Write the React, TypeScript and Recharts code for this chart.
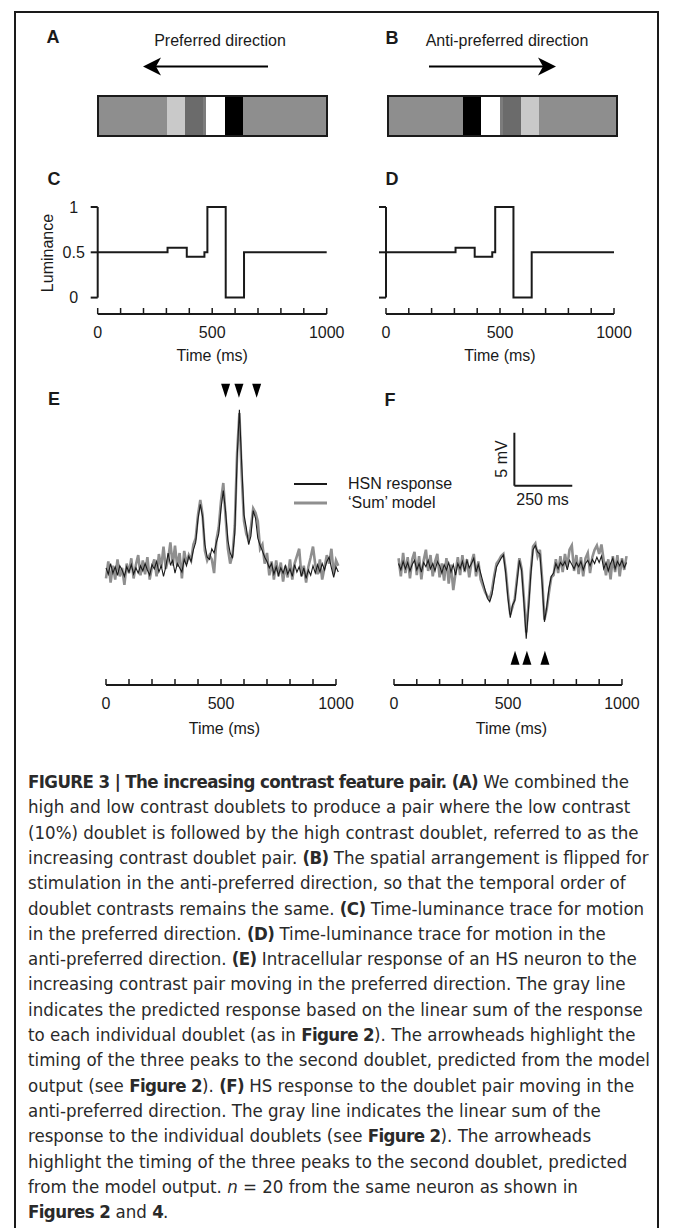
import React from "react";
import {
  BarChart,
  Bar,
  LineChart,
  Line,
  ComposedChart,
  Scatter,
  XAxis,
  YAxis,
  ReferenceLine,
  Legend,
} from "recharts";

// stimulus bars: stripe widths, left to right
const stripesA = [68, 18, 18, 3, 19, 18, 83];
const stripesB = [74, 18, 19, 3, 18, 18, 77];
const stripeColorsA = ["#8e8e8e", "#c9c9c9", "#6b6b6b", "#7c7c7c", "#ffffff", "#000000", "#8e8e8e"];
const stripeColorsB = ["#8e8e8e", "#000000", "#ffffff", "#7c7c7c", "#6b6b6b", "#c9c9c9", "#8e8e8e"];

// luminance step trace (ms, luminance)
const lumTimes = [0, 305, 389, 466, 479, 559, 639, 1000];
const lumValues = [0.5, 0.55, 0.45, 0.5, 1, 0, 0.5, 0.5];
const lumTicks = [0, 0.5, 1];

const timeTicks = [0, 100, 200, 300, 400, 500, 600, 700, 800, 900, 1000];
const timeLabels = [0, 500, 1000];

// E: preferred direction, mV above rest, one sample every 10 ms from 0 ms
const eHsn = [
  0.2, -0.4, 0.6, -0.3, 0.3, -0.5, 0.4, 0.0, -0.6, 0.3,
  -0.2, 0.5, -0.4, 0.2, -0.3, 0.4, -0.1, 0.6, 0.0, -0.5,
  0.5, 0.1, 0.8, -0.2, 0.4, -0.6, 0.3, 1.6, 0.5, 0.9,
  -0.3, 0.6, 0.2, -0.2, 1.0, 0.4, 1.3, 0.8, 1.9, 2.6,
  4.8, 6.2, 5.0, 2.4, 1.2, 1.0, 2.0, 1.6, 2.6, 3.4,
  5.8, 7.5, 5.5, 2.8, 1.6, 1.1, 3.5, 10.5, 15.1, 10.0,
  5.2, 4.0, 2.4, 3.2, 5.6, 4.9, 3.0, 2.3, 1.8, 1.2,
  0.8, 0.2, 0.6, -0.4, 0.3, -0.5, 0.2, -0.3, 0.4, -0.4,
  0.1, -0.6, 0.5, -0.2, 0.3, -0.6, 0.2, -0.8, 0.0, -0.5,
  0.4, -0.3, 0.5, -0.2, 0.6, 0.0, 0.8, 1.2, 0.2, -0.7,
  0.3, -0.2,
];
const eSum = [
  -0.8, 0.8, -1.2, 0.4, -0.9, 1.0, -0.6, 0.2, -1.4, 0.6,
  -0.3, 1.1, -0.8, 0.5, 1.4, -0.5, 0.9, -0.4, 1.2, -0.9,
  0.3, 1.0, -0.6, 1.5, 0.2, 2.2, 0.1, 1.0, 2.6, 0.4,
  2.3, 0.3, 1.6, -0.8, 1.8, 0.6, 1.4, 0.9, 2.4, 3.0,
  5.2, 6.6, 5.2, 1.8, 0.9, 1.4, 1.0, -0.3, 2.8, 4.0,
  6.5, 8.2, 5.0, 2.0, 0.6, 1.4, 4.2, 11.0, 14.8, 9.0,
  4.6, 3.4, 2.8, 4.0, 5.8, 5.4, 4.6, 2.0, 2.4, 0.6,
  1.6, -0.5, 0.8, -0.9, 0.9, -0.6, 0.7, -1.1, 0.4, -0.7,
  1.0, -0.9, 0.6, 1.3, 2.0, -0.6, 0.4, -1.2, 0.3, 1.2,
  2.2, 0.5, -0.4, 1.0, -0.9, 0.2, 1.4, 0.6, 2.0, -0.4,
  0.9, 0.4,
];
const eArrowTimes = [520, 578, 655];

// F: anti-preferred direction, one sample every 10 ms from 20 ms
const fHsn = [
  0.3, -0.3, 0.5, -0.2, 0.4, -0.4, 0.2, 0.6, -0.3, 0.3,
  -0.5, 0.4, 0.0, 0.6, -0.2, 0.3, -0.4, 0.5, 0.1, -0.6,
  0.2, -0.3, 0.4, -0.5, 0.2, -0.8, 0.3, -0.2, 0.5, -0.4,
  0.6, -0.1, 0.3, 0.8, -0.5, 0.2, -0.6, -1.4, -2.2, -3.0,
  -3.3, -2.6, -1.2, 0.0, 0.4, 0.8, 1.1, -0.6, -3.0, -4.8,
  -3.6, -3.2, -1.4, 0.6, -0.4, -3.4, -6.8, -4.0, -0.8, 1.6,
  2.0, 1.4, 1.2, -1.6, -5.2, -3.8, -2.0, -0.9, -0.6, 0.3,
  -0.2, 0.4, 0.1, 0.5, -0.3, 0.6, 0.2, -0.2, 0.4, 0.0,
  0.5, -0.3, 0.3, 0.6, 0.1, 0.7, 0.3, 0.9, 0.4, 1.0,
  -0.2, 0.4, -0.4, 0.3, 0.8, -0.2, 0.5, 0.1, 0.6, -0.1,
  0.4,
];
const fSum = [
  0.8, -0.9, 1.3, -0.6, 0.9, -1.1, 0.7, 1.4, -0.8, 1.0,
  -1.2, 0.6, 1.6, -0.4, 1.1, -0.9, 0.5, 1.2, -1.0, 0.3,
  -1.3, 0.8, -1.6, 0.2, -2.2, -0.6, 0.9, -0.8, 1.1, -0.5,
  0.7, -1.0, 0.4, 1.2, -0.9, 0.5, -1.2, -1.8, -2.4, -2.8,
  -3.0, -2.2, -0.8, 0.3, 0.6, 1.0, 1.2, -0.3, -2.6, -4.5,
  -3.8, -3.0, -1.0, 0.8, -0.2, -3.0, -6.2, -3.6, -0.4, 1.9,
  2.2, 1.0, 1.6, -1.2, -5.0, -4.0, -2.4, -1.0, -0.8, 0.7,
  -0.6, 1.0, -0.5, 1.2, 0.0, 1.6, 2.0, -0.4, 1.1, -0.7,
  0.9, -0.9, 0.8, 1.3, -0.6, 0.9, 1.6, 2.0, 1.2, 2.1,
  0.6, -0.8, 0.7, -1.2, 1.0, -0.5, 1.1, -0.9, 0.8, -0.3,
  1.0,
];
const fArrowTimes = [531, 583, 662];

const legendOrder = ["HSN response", "‘Sum’ model"];

const FONT = "'Liberation Sans', Arial, Helvetica, sans-serif";
const INK = "#1a1a1a";
const GRAY = "#8f8f8f";

const toSeries = (vals: number[], start: number) =>
  vals.map((v, i) => ({ t: start + i * 10, v }));

// text centred on a point
const T = ({ x, y, size = 16, bold = false, rotate = 0, children }: any) => (
  <div
    style={{
      position: "absolute",
      left: x,
      top: y,
      transform: `translate(-50%, -50%) rotate(${rotate}deg)`,
      fontSize: size,
      fontWeight: bold ? 700 : 400,
      lineHeight: 1,
      whiteSpace: "nowrap",
      color: INK,
    }}
  >
    {children}
  </div>
);

const TimeTick = (props: any) => {
  const { x, y, payload } = props;
  const v = payload.value;
  return (
    <g>
      <line x1={x} x2={x} y1={y} y2={y - 6} stroke={INK} strokeWidth={1.5} />
      {timeLabels.includes(v) && (
        <text x={x} y={y + 18} textAnchor="middle" dominantBaseline="central" fontSize={16} fill={INK} fontFamily={FONT}>
          {v}
        </text>
      )}
    </g>
  );
};

const LumTick = (props: any) => {
  const { x, y, payload } = props;
  return (
    <text x={x - 17} y={y} textAnchor="middle" dominantBaseline="central" fontSize={16} fill={INK} fontFamily={FONT}>
      {payload.value}
    </text>
  );
};

const NoTick = () => <g />;

function StripeBar({ widths, colors, left, top }: any) {
  const row: any = { name: "bar" };
  widths.forEach((w: number, i: number) => (row["s" + i] = w));
  const total = widths.reduce((a: number, b: number) => a + b, 0);
  return (
    <div style={{ position: "absolute", left, top, border: `2px solid ${INK}`, lineHeight: 0 }}>
      <BarChart width={total} height={38} data={[row]} layout="vertical" margin={{ top: 0, right: 0, bottom: 0, left: 0 }} barCategoryGap={0}>
        <XAxis type="number" hide domain={[0, total]} />
        <YAxis type="category" dataKey="name" hide />
        {widths.map((_: number, i: number) => (
          <Bar key={i} dataKey={"s" + i} stackId="a" fill={colors[i]} isAnimationActive={false} />
        ))}
      </BarChart>
    </div>
  );
}

function LuminanceChart({ left, top, withLabels }: any) {
  const data = lumTimes.map((t, i) => ({ t, v: lumValues[i] }));
  return (
    <div style={{ position: "absolute", left, top }}>
      <LineChart
        width={340}
        height={180}
        data={data}
        margin={withLabels ? { top: 17, right: 33.3, bottom: 0, left: 27.7 } : { top: 17, right: 66, bottom: 0, left: 6 }}
      >
        <XAxis
          dataKey="t"
          type="number"
          domain={[0, 1000]}
          ticks={timeTicks}
          interval={0}
          tick={<TimeTick />}
          tickLine={false}
          tickSize={0}
          tickMargin={0}
          axisLine={{ stroke: INK, strokeWidth: 2 }}
          height={56}
          label={{ value: "Time (ms)", position: "insideBottom", offset: 9, fontSize: 16, fill: INK }}
        />
        <YAxis
          type="number"
          domain={[-0.181, 1]}
          ticks={lumTicks}
          interval={0}
          tickSize={7}
          tickMargin={0}
          tickLine={{ stroke: INK, strokeWidth: 2 }}
          axisLine={false}
          tick={withLabels ? <LumTick /> : <NoTick />}
          width={withLabels ? 50 : 40}
        />
        <ReferenceLine segment={[{ x: 0, y: 0 }, { x: 0, y: 1 }]} stroke={INK} strokeWidth={2} ifOverflow="visible" />
        <Line type="stepAfter" dataKey="v" stroke={INK} strokeWidth={2} dot={false} isAnimationActive={false} />
      </LineChart>
    </div>
  );
}

const DownTri = (p: any) => (
  <polygon points={`${p.cx - 4.5},${p.cy - 7} ${p.cx + 4.5},${p.cy - 7} ${p.cx},${p.cy + 7}`} fill="#000" />
);
const UpTri = (p: any) => (
  <polygon points={`${p.cx - 4.5},${p.cy + 7} ${p.cx + 4.5},${p.cy + 7} ${p.cx},${p.cy - 7}`} fill="#000" />
);

const renderLegend = (props: any) => {
  const items = [...(props.payload || [])]
    .filter((p: any) => p.type !== "none")
    .sort((a: any, b: any) => legendOrder.indexOf(a.value) - legendOrder.indexOf(b.value));
  return (
    <div style={{ fontFamily: FONT, fontSize: 16, color: INK }}>
      {items.map((p: any) => (
        <div key={p.value} style={{ display: "flex", alignItems: "center", height: 19, whiteSpace: "nowrap" }}>
          <svg width={33} height={4} style={{ display: "block" }}>
            <line x1={0} x2={33} y1={2} y2={2} stroke={p.color} strokeWidth={p.color === INK ? 2 : 3} />
          </svg>
          <span style={{ marginLeft: 21 }}>{p.value}</span>
        </div>
      ))}
    </div>
  );
};

function TraceChart({ left, width, margin, domain, hsn, sum, start, arrows, arrowV, arrowShape, legend, children }: any) {
  const hsnData = toSeries(hsn, start);
  const sumData = toSeries(sum, start);
  const arrowData = arrows.map((t: number) => ({ t, v: arrowV }));
  return (
    <div style={{ position: "absolute", left, top: 360 }}>
      <ComposedChart width={width} height={380} margin={margin}>
        <XAxis
          dataKey="t"
          type="number"
          domain={[0, 1030]}
          ticks={timeTicks}
          interval={0}
          tick={<TimeTick />}
          tickLine={false}
          tickSize={0}
          tickMargin={0}
          axisLine={false}
          height={55}
          label={{ value: "Time (ms)", position: "insideBottom", offset: 6, fontSize: 16, fill: INK }}
        />
        <YAxis hide type="number" domain={domain} />
        <ReferenceLine segment={[{ x: 0, y: domain[0] }, { x: 1000, y: domain[0] }]} stroke={INK} strokeWidth={2} ifOverflow="visible" />
        <Line data={sumData} dataKey="v" name="‘Sum’ model" stroke={GRAY} strokeWidth={2.6} dot={false} isAnimationActive={false} />
        <Line data={hsnData} dataKey="v" name="HSN response" stroke={INK} strokeWidth={1.1} dot={false} isAnimationActive={false} />
        <Scatter data={arrowData} dataKey="v" shape={arrowShape} legendType="none" isAnimationActive={false} />
        {children}
        {legend && (
          <Legend
            layout="vertical"
            align="center"
            verticalAlign="middle"
            content={renderLegend}
            wrapperStyle={{ left: 274, top: 114.5, width: 200, height: 40 }}
          />
        )}
      </ComposedChart>
    </div>
  );
}

const B = ({ children }: any) => <b style={{ letterSpacing: -0.6 }}>{children}</b>;

const captionLines: React.ReactNode[] = [
  <><B>FIGURE 3 | The increasing contrast feature pair. (A)</B> We combined the</>,
  <>high and low contrast doublets to produce a pair where the low contrast</>,
  <>(10%) doublet is followed by the high contrast doublet, referred to as the</>,
  <>increasing contrast doublet pair. <B>(B)</B> The spatial arrangement is flipped for</>,
  <>stimulation in the anti-preferred direction, so that the temporal order of</>,
  <>doublet contrasts remains the same. <B>(C)</B> Time-luminance trace for motion</>,
  <>in the preferred direction. <B>(D)</B> Time-luminance trace for motion in the</>,
  <>anti-preferred direction. <B>(E)</B> Intracellular response of an HS neuron to the</>,
  <>increasing contrast pair moving in the preferred direction. The gray line</>,
  <>indicates the predicted response based on the linear sum of the response</>,
  <>to each individual doublet (as in <B>Figure 2</B>). The arrowheads highlight the</>,
  <>timing of the three peaks to the second doublet, predicted from the model</>,
  <>output (see <B>Figure 2</B>). <B>(F)</B> HS response to the doublet pair moving in the</>,
  <>anti-preferred direction. The gray line indicates the linear sum of the</>,
  <>response to the individual doublets (see <B>Figure 2</B>). The arrowheads</>,
  <>highlight the timing of the three peaks to the second doublet, predicted</>,
  <>from the model output. <i>n</i> = 20 from the same neuron as shown in</>,
  <><B>Figures 2</B> and <B>4</B>.</>,
];

export default function App() {
  return (
    <div
      style={{
        position: "absolute",
        left: 0,
        top: 0,
        width: 673,
        height: 1228,
        overflow: "hidden",
        background: "#fff",
        fontFamily: FONT,
        color: INK,
      }}
    >
      <div
        style={{
          position: "absolute",
          left: 14,
          top: 11,
          width: 645,
          height: 1300,
          boxSizing: "border-box",
          border: `2px solid ${INK}`,
          borderBottom: "none",
        }}
      />

      {/* A / B stimulus */}
      <T x={53} y={37} size={18} bold>A</T>
      <T x={220} y={41}>Preferred direction</T>
      <T x={392} y={38} size={18} bold>B</T>
      <T x={507} y={41}>Anti-preferred direction</T>
      <svg style={{ position: "absolute", left: 0, top: 0 }} width={673} height={90}>
        <line x1={268} y1={66.5} x2={152} y2={66.5} stroke="#000" strokeWidth={2} />
        <polygon points="143,66.5 161,57.5 156,66.5 161,75.5" fill="#000" />
        <line x1={429} y1={66.5} x2={547} y2={66.5} stroke="#000" strokeWidth={2} />
        <polygon points="556,66.5 538,57.5 543,66.5 538,75.5" fill="#000" />
      </svg>
      <StripeBar widths={stripesA} colors={stripeColorsA} left={97} top={95} />
      <StripeBar widths={stripesB} colors={stripeColorsB} left={387} top={95} />

      {/* C / D luminance */}
      <T x={54} y={178.5} size={18} bold>C</T>
      <T x={392} y={179} size={18} bold>D</T>
      <T x={48.3} y={253} rotate={-90}>Luminance</T>
      <LuminanceChart left={20} top={190} withLabels />
      <LuminanceChart left={340} top={190} withLabels={false} />

      {/* E / F responses */}
      <T x={54} y={399} size={18} bold>E</T>
      <T x={390} y={400} size={18} bold>F</T>
      <TraceChart
        left={20}
        width={340}
        margin={{ top: 17, right: 17.1, bottom: 0, left: 86 }}
        domain={[-10.85, 18.2]}
        hsn={eHsn}
        sum={eSum}
        start={0}
        arrows={eArrowTimes}
        arrowV={16.9}
        arrowShape={DownTri}
        legend
      />
      <TraceChart
        left={360}
        width={300}
        margin={{ top: 17, right: 31.2, bottom: 0, left: 34 }}
        domain={[-11.16, 17.9]}
        hsn={fHsn}
        sum={fSum}
        start={20}
        arrows={fArrowTimes}
        arrowV={-8.6}
        arrowShape={UpTri}
      >
        <ReferenceLine segment={[{ x: 528, y: 7.64 }, { x: 528, y: 12.64 }]} stroke={INK} strokeWidth={2} ifOverflow="visible" />
        <ReferenceLine segment={[{ x: 528, y: 7.64 }, { x: 782, y: 7.64 }]} stroke={INK} strokeWidth={2} ifOverflow="visible" />
      </TraceChart>
      <T x={501.5} y={459} rotate={-90}>5 mV</T>
      <T x={542.5} y={499.5}>250 ms</T>

      {/* caption */}
      {captionLines.map((line, i) => (
        <div
          key={i}
          style={{
            position: "absolute",
            left: 28,
            top: 781.7 - 12.65 + i * 25.3,
            height: 25.3,
            lineHeight: "25.3px",
            fontFamily: "'Liberation Sans Narrow', 'DejaVu Sans Condensed', Arial, sans-serif",
            fontSize: 18.5,
            color: "#2a2a2a",
            whiteSpace: "nowrap",
          }}
        >
          {line}
        </div>
      ))}
    </div>
  );
}
